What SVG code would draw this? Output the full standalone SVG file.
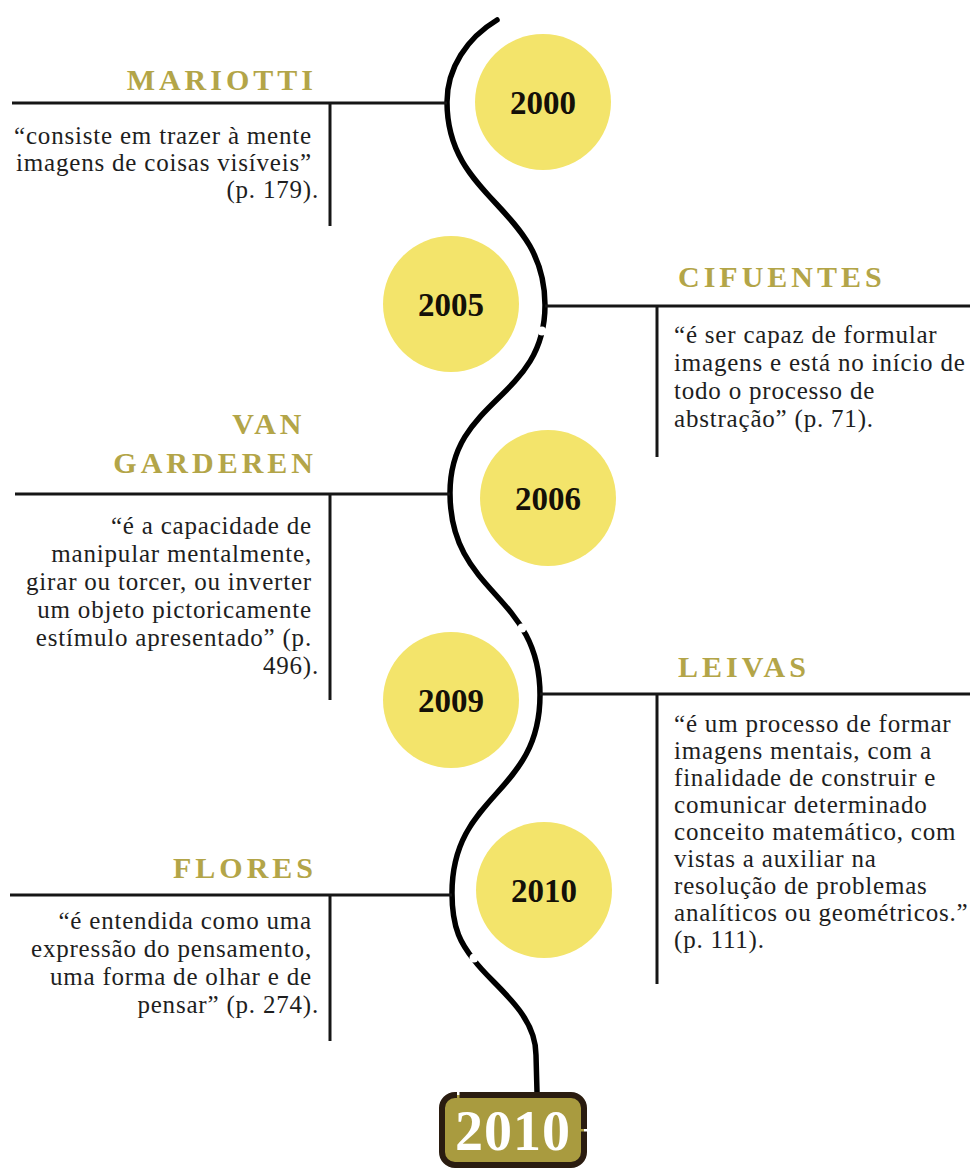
<svg xmlns="http://www.w3.org/2000/svg" width="970" height="1169" viewBox="0 0 970 1169">
  <style>
    .title { font-family: "Liberation Serif", "Times New Roman", serif; font-weight: bold; font-size: 30px; letter-spacing: 4px; fill: #b3a548; }
    .body { font-family: "Liberation Serif", "Times New Roman", serif; font-size: 25px; letter-spacing: 0.8px; fill: #1e1e1e; }
    .year { font-family: "Liberation Serif", "Times New Roman", serif; font-weight: bold; font-size: 33px; fill: #141008; text-anchor: middle; }
    .disc { fill: #f3e46b; }
    .rule { stroke: #161616; stroke-width: 3; fill: none; }
    .wave { stroke: #000; stroke-width: 5.5; fill: none; stroke-linecap: round; }
  </style>
  <defs>
    <!-- small breaks in the hand-drawn timeline stroke -->
    <mask id="breaks" maskUnits="userSpaceOnUse" x="0" y="0" width="970" height="1169">
      <rect x="0" y="0" width="970" height="1169" fill="#fff"/>
      <circle cx="542" cy="331" r="4.5" fill="#000"/>
      <circle cx="522" cy="628" r="4.5" fill="#000"/>
      <circle cx="474" cy="958" r="4.5" fill="#000"/>
    </mask>
    <!-- breaks in the badge outline -->
    <mask id="badge-breaks" maskUnits="userSpaceOnUse" x="0" y="0" width="970" height="1169">
      <rect x="0" y="0" width="970" height="1169" fill="#fff"/>
      <rect x="457" y="1090" width="2.5" height="10" fill="#000"/>
      <rect x="580" y="1129" width="10" height="2.5" fill="#000"/>
    </mask>
  </defs>

  <rect width="970" height="1169" fill="#fff"/>

  <!-- timeline connectors -->
  <g id="connectors">
    <path class="wave" mask="url(#breaks)" d="M497,20 C467,38 447,68 447,102 C447,200 545,207 545,305 C545,400 450,398 450,493 C450,595 540,593 540,695 C540,795 452,793 452,893 C452,930 462,945 474,960 C492,985 536,1012 536,1055 L537,1092"/>
    <line class="rule" x1="12" y1="103" x2="447" y2="103"/>
    <line class="rule" x1="330" y1="103" x2="330" y2="226"/>
    <line class="rule" x1="545" y1="306" x2="970" y2="306"/>
    <line class="rule" x1="657" y1="306" x2="657" y2="457"/>
    <line class="rule" x1="15" y1="494" x2="450" y2="494"/>
    <line class="rule" x1="330" y1="494" x2="330" y2="700"/>
    <line class="rule" x1="540" y1="694" x2="970" y2="694"/>
    <line class="rule" x1="657" y1="694" x2="657" y2="984"/>
    <line class="rule" x1="10" y1="895" x2="452" y2="895"/>
    <line class="rule" x1="330" y1="895" x2="330" y2="1041"/>
  </g>

  <!-- year discs -->
  <g id="year-2000"><circle class="disc" cx="543" cy="102" r="68"/><text class="year" x="543" y="114">2000</text></g>
  <g id="year-2005"><circle class="disc" cx="451" cy="304" r="68"/><text class="year" x="451" y="316">2005</text></g>
  <g id="year-2006"><circle class="disc" cx="548" cy="498" r="68"/><text class="year" x="548" y="510">2006</text></g>
  <g id="year-2009"><circle class="disc" cx="451" cy="700" r="68"/><text class="year" x="451" y="712">2009</text></g>
  <g id="year-2010"><circle class="disc" cx="544" cy="890" r="68"/><text class="year" x="544" y="902">2010</text></g>

  <!-- authors and quotes -->
  <g id="mariotti">
    <text class="title" x="317" y="90" text-anchor="end">MARIOTTI</text>
    <text class="body" text-anchor="end">
      <tspan x="319" y="144">“consiste em trazer à mente</tspan>
      <tspan x="319" y="171">imagens de coisas visíveis”</tspan>
      <tspan x="319" y="198">(p. 179).</tspan>
    </text>
  </g>

  <g id="cifuentes">
    <text class="title" x="678" y="287">CIFUENTES</text>
    <text class="body">
      <tspan x="674" y="343">“é ser capaz de formular</tspan>
      <tspan x="674" y="371">imagens e está no início de</tspan>
      <tspan x="674" y="399">todo o processo de</tspan>
      <tspan x="674" y="427">abstração” (p. 71).</tspan>
    </text>
  </g>

  <g id="van-garderen">
    <text class="title" text-anchor="end">
      <tspan x="317" y="434">VAN</tspan>
      <tspan x="317" y="473">GARDEREN</tspan>
    </text>
    <text class="body" text-anchor="end">
      <tspan x="319" y="534">“é a capacidade de</tspan>
      <tspan x="319" y="562">manipular mentalmente,</tspan>
      <tspan x="319" y="590">girar ou torcer, ou inverter</tspan>
      <tspan x="319" y="618">um objeto pictoricamente</tspan>
      <tspan x="319" y="646">estímulo apresentado” (p.</tspan>
      <tspan x="319" y="674">496).</tspan>
    </text>
  </g>

  <g id="leivas">
    <text class="title" x="678" y="677">LEIVAS</text>
    <text class="body">
      <tspan x="674" y="732">“é um processo de formar</tspan>
      <tspan x="674" y="759">imagens mentais, com a</tspan>
      <tspan x="674" y="786">finalidade de construir e</tspan>
      <tspan x="674" y="813">comunicar determinado</tspan>
      <tspan x="674" y="840">conceito matemático, com</tspan>
      <tspan x="674" y="867">vistas a auxiliar na</tspan>
      <tspan x="674" y="894">resolução de problemas</tspan>
      <tspan x="674" y="921">analíticos ou geométricos.”</tspan>
      <tspan x="674" y="948">(p. 111).</tspan>
    </text>
  </g>

  <g id="flores">
    <text class="title" x="317" y="878" text-anchor="end">FLORES</text>
    <text class="body" text-anchor="end">
      <tspan x="319" y="929">“é entendida como uma</tspan>
      <tspan x="319" y="957">expressão do pensamento,</tspan>
      <tspan x="319" y="985">uma forma de olhar e de</tspan>
      <tspan x="319" y="1013">pensar” (p. 274).</tspan>
    </text>
  </g>

  <!-- closing year badge -->
  <g id="badge-2010">
    <rect x="442" y="1095" width="142" height="70" rx="13" fill="#a99b3f"/>
    <rect x="442" y="1095" width="142" height="70" rx="13" fill="none" stroke="#2a1c10" stroke-width="6" mask="url(#badge-breaks)"/>
    <text x="513" y="1150" text-anchor="middle" font-family="Liberation Serif, Times New Roman, serif" font-weight="bold" font-size="56" letter-spacing="1" fill="#fff">2010</text>
  </g>
</svg>
